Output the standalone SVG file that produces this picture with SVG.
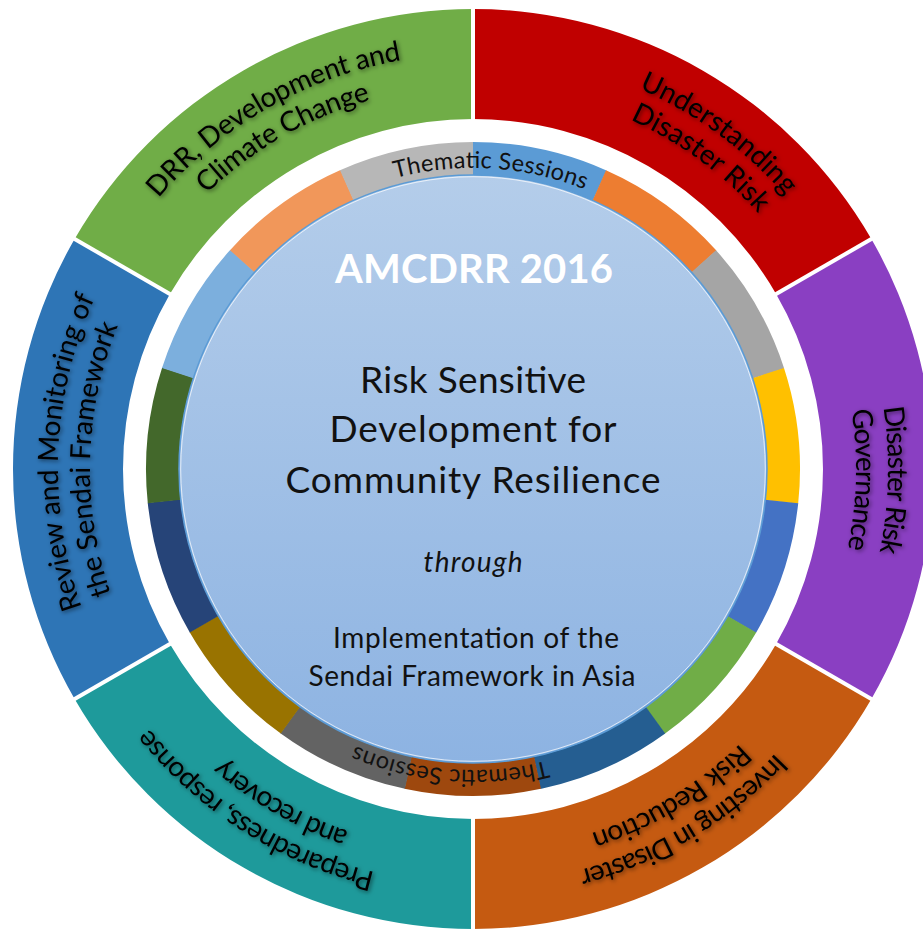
<svg xmlns="http://www.w3.org/2000/svg" width="923" height="930" viewBox="0 0 923 930">
<defs>
<style>
.lbl{font-family:Lato,"Liberation Sans",sans-serif;font-size:28px;fill:#000;text-anchor:middle}
.th{font-family:Lato,"Liberation Sans",sans-serif;font-size:23.5px;fill:#111;text-anchor:middle}
.ctr{font-family:Lato,"Liberation Sans",sans-serif;text-anchor:middle;fill:#111}
.sep{stroke:#fff;stroke-width:4}
.ring{fill:none;stroke-width:33}
</style>
<linearGradient id="cg" x1="0" y1="0" x2="0" y2="1">
<stop offset="0" stop-color="#B4CDEA"/>
<stop offset="1" stop-color="#8DB3E2"/>
</linearGradient>
<filter id="sh" x="-10%" y="-10%" width="120%" height="120%">
<feDropShadow dx="1.5" dy="1.5" stdDeviation="2" flood-color="#000" flood-opacity="0.55"/>
</filter>
<path id="p1" d="M 58 469 A 415 415 0 1 1 888 469 A 415 415 0 1 1 58 469"/>
<path id="p2" d="M 90 469 A 383 383 0 1 1 856 469 A 383 383 0 1 1 90 469"/>
<path id="p3" d="M 172 469 A 301 301 0 1 1 774 469 A 301 301 0 1 1 172 469"/>
</defs>

<g id="seg-understanding">
<path fill="#C00000" d="M 473 9 A 460 460 0 0 1 871.37 239 L 776.11 294 A 350 350 0 0 0 473 119 Z"/>
<g filter="url(#sh)">
<text class="lbl" transform="rotate(-53.8 473 469)"><textPath href="#p1" startOffset="50%" textLength="183">Understanding</textPath></text>
<text class="lbl" transform="rotate(-53.8 473 469)"><textPath href="#p2" startOffset="50%" textLength="160">Disaster Risk</textPath></text>
</g>
</g>

<g id="seg-governance">
<path fill="#8A3FC2" d="M 871.37 239 A 460 460 0 0 1 871.37 699 L 776.11 644 A 350 350 0 0 0 776.11 294 Z"/>
<g filter="url(#sh)">
<text class="lbl" transform="rotate(1.5 473 469)"><textPath href="#p1" startOffset="50%" textLength="146">Disaster Risk</textPath></text>
<text class="lbl" transform="rotate(1.6 473 469)"><textPath href="#p2" startOffset="50%" textLength="140">Governance</textPath></text>
</g>
</g>

<g id="seg-investing">
<path fill="#C55A11" d="M 871.37 699 A 460 460 0 0 1 473 929 L 473 819 A 350 350 0 0 0 776.11 644 Z"/>
<g filter="url(#sh)">
<text class="lbl" transform="rotate(59.2 473 469)"><textPath href="#p1" startOffset="50%" textLength="232">Investing in Disaster</textPath></text>
<text class="lbl" transform="rotate(58.9 473 469)"><textPath href="#p2" startOffset="50%" textLength="176">Risk Reduction</textPath></text>
</g>
</g>

<g id="seg-preparedness">
<path fill="#1E9A9B" d="M 473 929 A 460 460 0 0 1 74.63 699 L 169.89 644 A 350 350 0 0 0 473 819 Z"/>
<g filter="url(#sh)">
<text class="lbl" transform="rotate(122.5 473 469)"><textPath href="#p1" startOffset="50%" textLength="273">Preparedness, response</textPath></text>
<text class="lbl" transform="rotate(119.9 473 469)"><textPath href="#p2" startOffset="50%" textLength="146">and recovery</textPath></text>
</g>
</g>

<g id="seg-review">
<path fill="#2E75B6" d="M 74.63 699 A 460 460 0 0 1 74.63 239 L 169.89 294 A 350 350 0 0 0 169.89 644 Z"/>
<g filter="url(#sh)">
<text class="lbl" transform="rotate(182.4 473 469)"><textPath href="#p1" startOffset="50%" textLength="317">Review and Monitoring of</textPath></text>
<text class="lbl" transform="rotate(181.5 473 469)"><textPath href="#p2" startOffset="50%" textLength="274">the Sendai Framework</textPath></text>
</g>
</g>

<g id="seg-drr">
<path fill="#70AD47" d="M 74.63 239 A 460 460 0 0 1 473 9 L 473 119 A 350 350 0 0 0 169.89 294 Z"/>
<g filter="url(#sh)">
<text class="lbl" transform="rotate(240.4 473 469)"><textPath href="#p1" startOffset="50%" textLength="285">DRR, Development and</textPath></text>
<text class="lbl" transform="rotate(240.2 473 469)"><textPath href="#p2" startOffset="50%" textLength="191">Climate Change</textPath></text>
</g>
</g>

<g id="dividers">
<line class="sep" x1="473" y1="124" x2="473" y2="3"/>
<line class="sep" x1="771.78" y1="296.5" x2="876.57" y2="236"/>
<line class="sep" x1="771.78" y1="641.5" x2="876.57" y2="702"/>
<line class="sep" x1="473" y1="814" x2="473" y2="935"/>
<line class="sep" x1="174.22" y1="641.5" x2="69.43" y2="702"/>
<line class="sep" x1="174.22" y1="296.5" x2="69.43" y2="236"/>
</g>

<g id="sessions-ring">
<circle class="ring" cx="473" cy="469" r="310.5" stroke="#5B9BD5" stroke-dasharray="130.6 1900" transform="rotate(-90 473 469)"/>
<circle class="ring" cx="473" cy="469" r="310.5" stroke="#ED7D31" stroke-dasharray="130.6 1900" transform="rotate(-66 473 469)"/>
<circle class="ring" cx="473" cy="469" r="310.5" stroke="#A5A5A5" stroke-dasharray="130.6 1900" transform="rotate(-42 473 469)"/>
<circle class="ring" cx="473" cy="469" r="310.5" stroke="#FFC000" stroke-dasharray="130.6 1900" transform="rotate(-18 473 469)"/>
<circle class="ring" cx="473" cy="469" r="310.5" stroke="#4472C4" stroke-dasharray="130.6 1900" transform="rotate(6 473 469)"/>
<circle class="ring" cx="473" cy="469" r="310.5" stroke="#70AD47" stroke-dasharray="130.6 1900" transform="rotate(30 473 469)"/>
<circle class="ring" cx="473" cy="469" r="310.5" stroke="#255E91" stroke-dasharray="130.6 1900" transform="rotate(54 473 469)"/>
<circle class="ring" cx="473" cy="469" r="310.5" stroke="#9E480E" stroke-dasharray="130.6 1900" transform="rotate(78 473 469)"/>
<circle class="ring" cx="473" cy="469" r="310.5" stroke="#636363" stroke-dasharray="130.6 1900" transform="rotate(102 473 469)"/>
<circle class="ring" cx="473" cy="469" r="310.5" stroke="#997300" stroke-dasharray="130.6 1900" transform="rotate(126 473 469)"/>
<circle class="ring" cx="473" cy="469" r="310.5" stroke="#264478" stroke-dasharray="130.6 1900" transform="rotate(150 473 469)"/>
<circle class="ring" cx="473" cy="469" r="310.5" stroke="#43682B" stroke-dasharray="130.6 1900" transform="rotate(174 473 469)"/>
<circle class="ring" cx="473" cy="469" r="310.5" stroke="#7CAFDD" stroke-dasharray="130.6 1900" transform="rotate(198 473 469)"/>
<circle class="ring" cx="473" cy="469" r="310.5" stroke="#F1975A" stroke-dasharray="130.6 1900" transform="rotate(222 473 469)"/>
<circle class="ring" cx="473" cy="469" r="310.5" stroke="#B7B7B7" stroke-dasharray="130.1 1900" transform="rotate(246 473 469)"/>
<text class="th" transform="rotate(-86.6 473 469)"><textPath href="#p3" startOffset="50%" textLength="193">Thematic Sessions</textPath></text>
<text class="th" transform="rotate(94.4 473 469)"><textPath href="#p3" startOffset="50%" textLength="196">Thematic Sessions</textPath></text>
</g>

<g id="center">
<circle cx="473" cy="469" r="294" fill="url(#cg)" stroke="#5B9BD5" stroke-width="1.5"/>
<circle cx="473" cy="469" r="292.3" fill="none" stroke="#fff" stroke-width="1" opacity="0.7"/>
<text class="ctr" x="474" y="283" font-size="40" font-weight="700" style="fill:#fff" textLength="278">AMCDRR 2016</text>
<text class="ctr" x="473" y="393" font-size="37" textLength="226">Risk Sensitive</text>
<text class="ctr" x="473" y="442" font-size="37" textLength="287">Development for</text>
<text class="ctr" x="473" y="493" font-size="37" textLength="375">Community Resilience</text>
<text class="ctr" x="473" y="572" font-size="28" font-style="italic" textLength="99">through</text>
<text class="ctr" x="476" y="648" font-size="28" textLength="286">Implementation of the</text>
<text class="ctr" x="472" y="686" font-size="28" textLength="327">Sendai Framework in Asia</text>
</g>
</svg>
